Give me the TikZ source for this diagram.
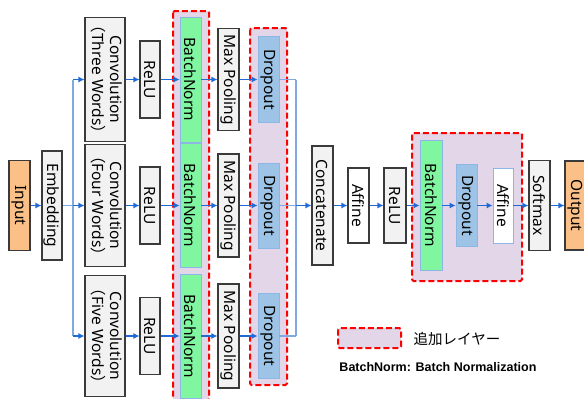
\documentclass[tikz,border=0pt]{standalone}
\usepackage{fontspec}
\setmainfont{Noto Sans}
\newfontfamily\jp{Noto Sans CJK JP}
\newfontfamily\lib{Liberation Sans}
\usetikzlibrary{arrows.meta}
\definecolor{orangefill}{HTML}{FAC087}
\definecolor{grayfill}{HTML}{F2F2F2}
\definecolor{boxborder}{HTML}{3A3A3A}
\definecolor{greenfill}{HTML}{80F6A0}
\definecolor{bluefill}{HTML}{9DC3E6}
\definecolor{blueborder}{HTML}{8DB6E2}
\definecolor{lavender}{HTML}{E2D6E8}
\definecolor{arrowblue}{HTML}{1F6AD6}
\definecolor{lightline}{HTML}{7FA9E0}
\begin{document}
\begin{tikzpicture}[x=1pt,y=-1pt,
  base/.style={inner sep=0pt, font=\fontsize{15.5}{18}\selectfont},
  graybox/.style={base, draw=boxborder, line width=1.1pt, fill=grayfill},
  whitebox/.style={base, draw=boxborder, line width=1.1pt, fill=white},
  iobox/.style={base, draw=boxborder, line width=1.1pt, fill=orangefill},
  greenbox/.style={base, draw=blueborder, line width=0.8pt, fill=greenfill},
  bluebox/.style={base, draw=blueborder, line width=0.8pt, fill=bluefill},
  lbbox/.style={base, draw=blueborder, line width=0.8pt, fill=white},
  redbox/.style={draw=red, line width=2pt, dash pattern=on 6pt off 3pt, fill=lavender, rounded corners=1.5pt},
  arr/.style={draw=arrowblue, line width=1.1pt, -{Latex[length=6pt,width=6pt]}},
  lline/.style={draw=lightline, line width=1.1pt},
]
\useasboundingbox (0,0) rectangle (584,399);
\clip (0,0) rectangle (584,399);
\def\ra{79.5}
\def\rb{205.5}
\def\rc{336}
% added-layer regions
\draw[redbox] (173,11) rectangle (209,412);
\draw[redbox] (250,28) rectangle (287,385);
\draw[redbox] (412,133) rectangle (522,281);

% nodes
\node[iobox, minimum width=21pt, minimum height=90pt] (in) at (19.5,\rb) {\rotatebox{-90}{Input}};
\node[graybox, minimum width=20pt, minimum height=109pt] (emb) at (52,\rb) {\rotatebox{-90}{Embedding}};

\node[graybox, minimum width=40pt, minimum height=122pt] (c1) at (105,\ra) {\rotatebox{-90}{\begin{tabular}{@{}c@{}}Convolution\\{\jp（}Three Words{\jp）}\end{tabular}}};
\node[graybox, minimum width=40pt, minimum height=122pt] (c2) at (105,\rb) {\rotatebox{-90}{\begin{tabular}{@{}c@{}}Convolution\\{\jp（}Four Words{\jp）}\end{tabular}}};
\node[graybox, minimum width=40pt, minimum height=121pt] (c3) at (105,\rc) {\rotatebox{-90}{\begin{tabular}{@{}c@{}}Convolution\\{\jp（}Five Words{\jp）}\end{tabular}}};

\node[graybox, minimum width=20pt, minimum height=77pt] (r1) at (150,\ra) {\rotatebox{-90}{ReLU}};
\node[graybox, minimum width=20pt, minimum height=77pt] (r2) at (150,\rb) {\rotatebox{-90}{ReLU}};
\node[graybox, minimum width=20pt, minimum height=77pt] (r3) at (150,\rc) {\rotatebox{-90}{ReLU}};

\node[greenbox, minimum width=21pt, minimum height=125pt] (b1) at (190.5,\ra) {\rotatebox{-90}{BatchNorm}};
\node[greenbox, minimum width=21pt, minimum height=124pt] (b2) at (190.5,\rb) {\rotatebox{-90}{BatchNorm}};
\node[greenbox, minimum width=21pt, minimum height=124pt] (b3) at (190.5,\rc) {\rotatebox{-90}{BatchNorm}};

\node[graybox, minimum width=21pt, minimum height=102pt] (m1) at (228.5,\ra) {\rotatebox{-90}{Max Pooling}};
\node[graybox, minimum width=21pt, minimum height=103pt] (m2) at (228.5,\rb) {\rotatebox{-90}{Max Pooling}};
\node[graybox, minimum width=21pt, minimum height=104pt] (m3) at (228.5,\rc) {\rotatebox{-90}{Max Pooling}};

\node[bluebox, minimum width=21pt, minimum height=86pt] (d1) at (268.5,\ra) {\rotatebox{-90}{Dropout}};
\node[bluebox, minimum width=21pt, minimum height=85pt] (d2) at (268.5,\rb) {\rotatebox{-90}{Dropout}};
\node[bluebox, minimum width=21pt, minimum height=85pt] (d3) at (268.5,\rc) {\rotatebox{-90}{Dropout}};

\node[graybox, minimum width=21pt, minimum height=119pt] (cat) at (322.5,\rb) {\rotatebox{-90}{Concatenate}};
\node[whitebox, minimum width=21pt, minimum height=75pt] (af1) at (358.5,\rb) {\rotatebox{-90}{Affine}};
\node[graybox, minimum width=22pt, minimum height=75pt] (r4) at (395,\rb) {\rotatebox{-90}{ReLU}};
\node[greenbox, minimum width=22pt, minimum height=130pt] (b4) at (431,\rb) {\rotatebox{-90}{BatchNorm}};
\node[bluebox, minimum width=21pt, minimum height=82pt] (d4) at (466.5,\rb) {\rotatebox{-90}{Dropout}};
\node[lbbox, minimum width=20pt, minimum height=75pt] (af2) at (503,\rb) {\rotatebox{-90}{Affine}};
\node[graybox, minimum width=21pt, minimum height=90pt] (sm) at (539.5,\rb) {\rotatebox{-90}{Softmax}};
\node[iobox, minimum width=21pt, minimum height=89pt] (out) at (575.5,\rb) {\rotatebox{-90}{Output}};

% branch coordinates
\coordinate (s1) at (73,\ra);
\coordinate (s2) at (73,\rb);
\coordinate (s3) at (73,\rc);
\coordinate (j1) at (296,\ra);
\coordinate (j2) at (296,\rb);
\coordinate (j3) at (296,\rc);

% connectors
\draw[arr] (in) -- (emb);
\draw[lline] (s1) -- (s3);
\draw[lline] (emb) -- (s2);
\draw[arr] (s1) -- (c1);
\draw[arr] (s2) -- (c2);
\draw[arr] (s3) -- (c3);
\foreach \i in {1,2,3}{
  \draw[arr] (c\i) -- (r\i);
  \draw[arr] (r\i) -- (b\i);
  \draw[arr] (b\i) -- (m\i);
  \draw[arr] (m\i) -- (d\i);
  \draw[lline] (d\i) -- (j\i);
}
\draw[lline] (j1) -- (j3);
\draw[arr] (j2) -- (cat);
\draw[arr] (cat) -- (af1);
\draw[arr] (af1) -- (r4);
\draw[arr] (r4) -- (b4);
\draw[arr] (b4) -- (d4);
\draw[arr] (d4) -- (af2);
\draw[arr] (af2) -- (sm);
\draw[arr] (sm) -- (out);

% legend
\draw[redbox] (338,328) rectangle (401,348);
\node[inner sep=0pt, font=\fontsize{14.5}{17}\selectfont\jp] (leg1) at (457,339) {追加レイヤー};
\node[inner sep=0pt, font=\fontsize{12.5}{14}\selectfont\lib\bfseries] (leg2) at (438,367) {BatchNorm: Batch Normalization};
\end{tikzpicture}
\end{document}
